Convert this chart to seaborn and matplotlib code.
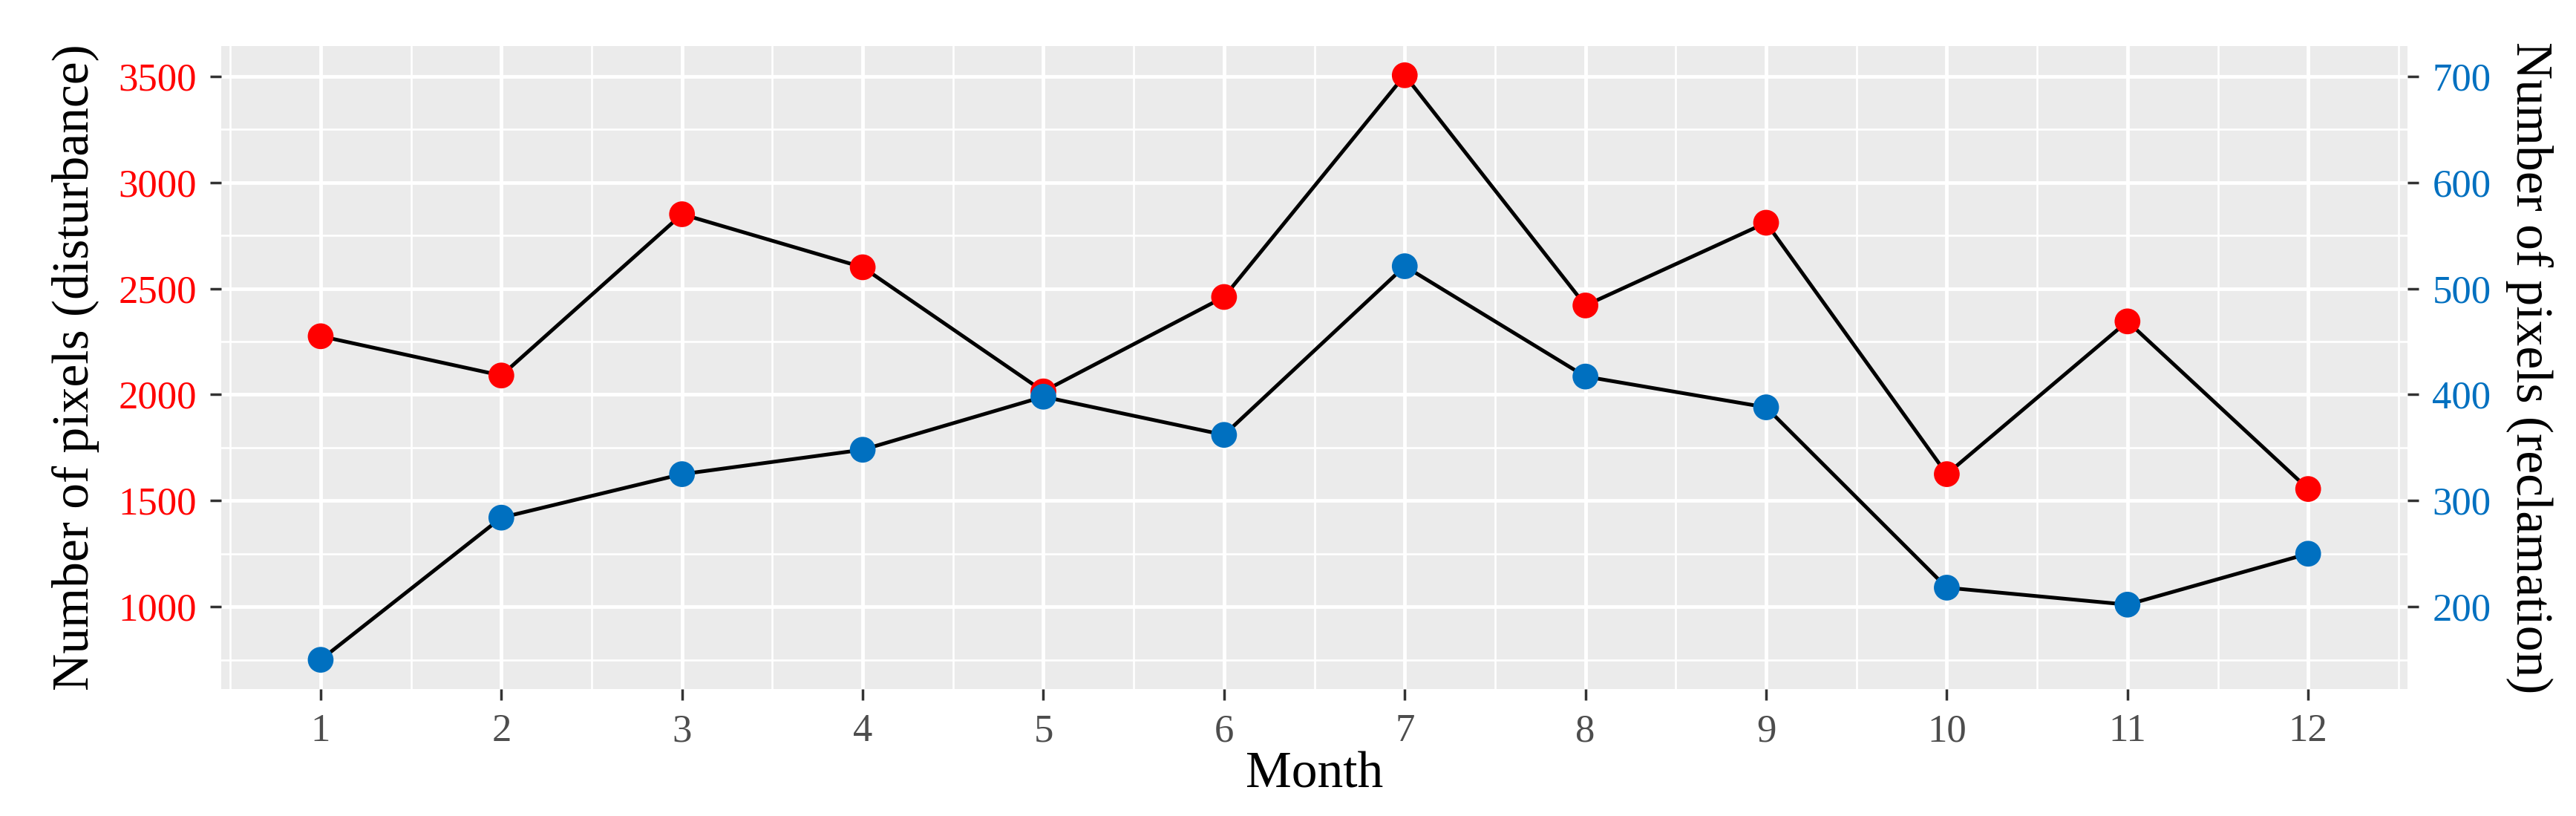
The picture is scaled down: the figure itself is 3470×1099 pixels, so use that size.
import matplotlib
matplotlib.use("Agg")
import matplotlib.pyplot as plt
import seaborn as sns
import pandas as pd
from matplotlib.ticker import AutoMinorLocator

# monthly pixel counts
months = list(range(1, 13))
disturbance = [2275, 2090, 2850, 2600, 2015, 2460, 3505, 2420, 2810, 1625, 2345, 1555]
reclamation = [150, 284, 325, 348, 398, 362, 521, 417, 388, 218, 202, 250]
left_ticks = [1000, 1500, 2000, 2500, 3000, 3500]
right_ticks = [200, 300, 400, 500, 600, 700]
sec_factor = 5  # secondary axis = primary / 5

RED = "#FF0000"
BLUE = "#0070C0"

sns.set_theme(style="darkgrid")
plt.rcParams['font.family'] = ['Liberation Serif', 'DejaVu Serif']
plt.rcParams['axes.facecolor'] = '#EBEBEB'

df = pd.DataFrame({"Month": months, "Disturbance": disturbance, "Reclamation": reclamation})

fig = plt.figure(figsize=(34.7, 10.99), dpi=100)
ax = fig.add_axes([0.0859, 0.1556, 0.8487, 0.788])
ax2 = ax.twinx()

# disturbance series on the left axis
sns.lineplot(data=df, x="Month", y="Disturbance", color="black", lw=3.6, ax=ax, zorder=2)
sns.scatterplot(data=df, x="Month", y="Disturbance", color=RED, s=25 ** 2,
                edgecolor="none", ax=ax, zorder=3)
# reclamation series on the right axis
sns.lineplot(data=df, x="Month", y="Reclamation", color="black", lw=3.6, ax=ax2, zorder=2)
sns.scatterplot(data=df, x="Month", y="Reclamation", color=BLUE, s=25 ** 2,
                edgecolor="none", ax=ax2, zorder=3)

lo = min(min(disturbance), min(reclamation) * sec_factor)
hi = max(max(disturbance), max(reclamation) * sec_factor)
pad = (hi - lo) * 0.05
ax.set_ylim(lo - pad, hi + pad)
ax2.set_ylim((lo - pad) / sec_factor, (hi + pad) / sec_factor)
ax.set_xlim(0.45, 12.55)

ax.set_xticks(months)
ax.set_yticks(left_ticks)
ax2.set_yticks(right_ticks)
ax.xaxis.set_minor_locator(AutoMinorLocator(2))
ax.yaxis.set_minor_locator(AutoMinorLocator(2))

ax.grid(which="major", color="white", lw=3.5)
ax.grid(which="minor", color="white", lw=1.9)
ax2.grid(False)
for a in (ax, ax2):
    for s in a.spines.values():
        s.set_visible(False)

tick_kw = dict(length=11, width=2.5, color="#333333", labelsize=38, pad=13)
ax.tick_params(axis="x", which="major", labelcolor="#4D4D4D", bottom=True, **tick_kw)
ax.tick_params(axis="y", which="major", labelcolor=RED, left=True, **tick_kw)
ax2.tick_params(axis="y", which="major", labelcolor=BLUE, right=True, **tick_kw)
ax.tick_params(which="minor", length=0)

ax.set_xlabel("Month", fontsize=50, color="black", labelpad=2)
ax.set_ylabel("Number of pixels (disturbance)", fontsize=50, color="black", labelpad=18)
ax2.set_ylabel("Number of pixels (reclamation)", fontsize=50, color="black",
               rotation=270, va="bottom", labelpad=14)

fig.savefig("out.png", dpi=100, facecolor="white")
